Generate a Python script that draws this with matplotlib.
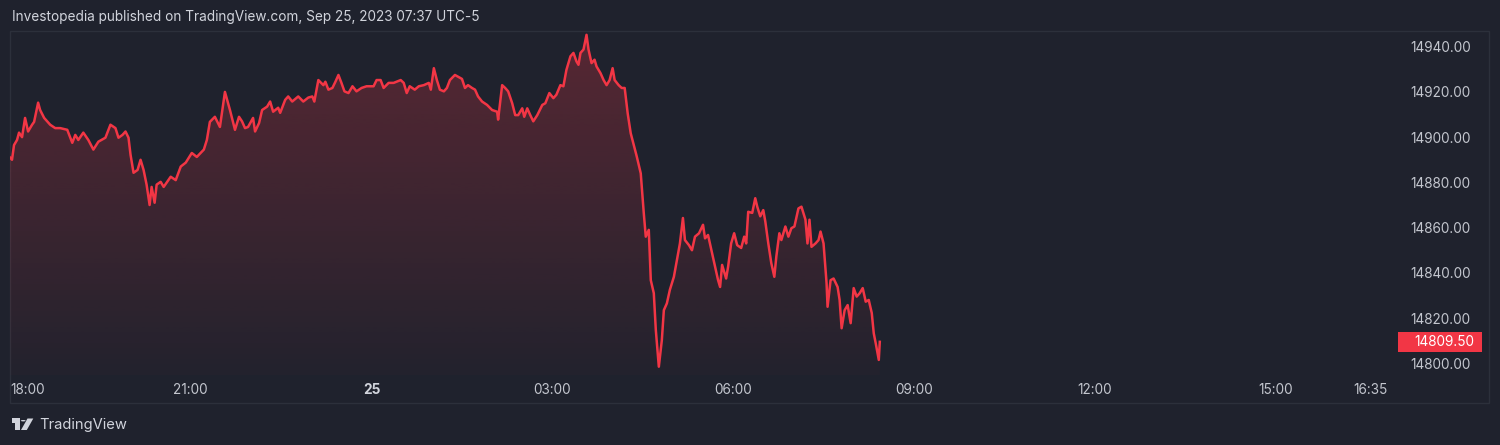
import matplotlib
matplotlib.use("Agg")
import matplotlib.pyplot as plt
import numpy as np
from matplotlib.patches import Rectangle, Polygon, Circle
from matplotlib.transforms import blended_transform_factory

plt.rcParams['font.family'] = ['Inter', 'DejaVu Sans']

# ---- data (minutes after 18:00, Sep 24) ----
minutes = [0, 2, 4, 7, 9, 12, 15, 18, 22, 24, 28, 30, 34, 40, 45, 50, 57, 62, 65, 68,
           73, 78, 83, 88, 95, 100, 105, 108, 112, 115, 118, 120, 123, 127, 130, 133, 136, 139, 141, 144,
           146, 150, 153, 160, 165, 170, 175, 181, 186, 193, 196, 199, 204, 209, 214, 219, 224, 228, 231, 234,
           237, 242, 244, 248, 251, 256, 259, 262, 267, 269, 274, 277, 281, 287, 292, 297, 301, 303, 307, 312,
           314, 317, 321, 324, 327, 330, 333, 337, 341, 345, 350, 355, 362, 365, 369, 372, 377, 382, 389, 392,
           395, 398, 403, 407, 412, 417, 419, 422, 425, 428, 432, 435, 438, 443, 450, 453, 456, 460, 463, 466,
           470, 475, 480, 485, 486, 490, 493, 496, 500, 503, 506, 510, 512, 515, 518, 521, 525, 530, 533, 537,
           541, 544, 548, 551, 554, 558, 561, 564, 566, 568, 571, 574, 576, 579, 582, 584, 588, 591, 594, 597,
           600, 602, 606, 609, 612, 615, 618, 624, 628, 631, 633, 636, 638, 641, 643, 646, 649, 651, 654, 657,
           661, 664, 667, 670, 672, 676, 679, 682, 686, 690, 692, 695, 699, 702, 705, 707, 709, 713, 715, 718,
           721, 724, 728, 731, 733, 735, 739, 742, 744, 747, 750, 752, 755, 758, 761, 763, 766, 768, 772, 775,
           778, 781, 785, 788, 792, 794, 796, 798, 802, 805, 807, 810, 813, 814, 817, 820, 824, 826, 828, 831,
           834, 837, 840, 843, 846, 849, 852, 855, 858, 860, 862, 865, 866]
prices = [14891.0, 14890.0, 14896.5, 14898.75, 14902.0, 14900.0, 14908.5, 14902.5, 14905.5, 14906.75,
          14915.25, 14912.0, 14908.5, 14905.5, 14904.0, 14904.0, 14903.25, 14897.5, 14901.0, 14898.75,
          14902.0, 14898.75, 14894.5, 14898.0, 14899.75, 14905.5, 14904.0, 14899.75, 14901.0, 14902.5,
          14899.75, 14892.25, 14884.25, 14885.5, 14890.0, 14885.5, 14879.0, 14870.0, 14878.0, 14871.0,
          14879.0, 14880.25, 14878.0, 14882.5, 14881.0, 14887.0, 14888.75, 14893.0, 14891.25, 14894.5,
          14898.75, 14906.75, 14909.0, 14904.5, 14920.0, 14912.0, 14903.25, 14909.0, 14907.0, 14904.0,
          14904.5, 14908.5, 14902.5, 14906.25, 14912.0, 14913.5, 14915.75, 14911.25, 14913.0, 14910.75,
          14916.5, 14918.0, 14915.75, 14918.0, 14915.75, 14917.5, 14918.0, 14915.75, 14925.25, 14923.0,
          14924.5, 14921.0, 14921.75, 14924.5, 14927.5, 14924.0, 14920.25, 14919.5, 14922.5, 14920.25,
          14921.75, 14922.5, 14922.5, 14925.25, 14925.25, 14921.75, 14924.0, 14924.0, 14925.25, 14924.0,
          14919.5, 14922.5, 14921.0, 14922.5, 14923.0, 14924.0, 14921.0, 14930.5, 14925.25, 14921.0,
          14920.25, 14921.75, 14925.25, 14927.5, 14925.75, 14921.75, 14923.0, 14921.75, 14921.0, 14918.0,
          14915.75, 14914.25, 14912.0, 14911.25, 14907.75, 14923.0, 14921.75, 14920.25, 14915.0, 14909.75,
          14909.75, 14912.75, 14909.0, 14912.75, 14909.75, 14907.0, 14909.75, 14914.25, 14915.0, 14919.5,
          14917.25, 14918.75, 14923.0, 14922.5, 14929.75, 14935.75, 14937.25, 14933.5, 14932.0, 14937.25,
          14938.75, 14945.25, 14938.75, 14932.75, 14934.25, 14931.25, 14928.25, 14925.25, 14923.0, 14925.25,
          14930.5, 14925.25, 14923.0, 14921.75, 14921.75, 14910.5, 14901.75, 14891.5, 14884.0, 14866.5,
          14856.0, 14859.0, 14836.75, 14831.0, 14814.75, 14798.5, 14810.25, 14823.5, 14826.5, 14832.5,
          14838.25, 14845.75, 14853.0, 14864.25, 14854.5, 14852.25, 14850.0, 14856.0, 14857.5, 14861.25,
          14855.25, 14856.75, 14848.75, 14842.75, 14836.75, 14833.75, 14843.5, 14837.5, 14842.75, 14853.0,
          14857.5, 14852.25, 14851.0, 14856.0, 14853.0, 14867.0, 14866.5, 14873.0, 14869.25, 14865.0,
          14867.75, 14862.75, 14853.0, 14844.25, 14838.25, 14847.25, 14857.5, 14854.5, 14860.5, 14856.0,
          14859.75, 14860.5, 14868.5, 14869.25, 14863.5, 14853.0, 14863.5, 14851.5, 14853.0, 14854.5,
          14858.25, 14853.0, 14835.5, 14825.0, 14836.75, 14837.5, 14833.75, 14828.0, 14815.5, 14823.5,
          14825.75, 14817.75, 14833.25, 14829.5, 14831.0, 14833.25, 14827.25, 14828.0, 14822.25, 14813.25,
          14808.75, 14801.5, 14809.5]

x_ticks = [0, 180, 360, 540, 720, 900, 1080, 1260, 1355]
x_labels = ['18:00', '21:00', '25', '03:00', '06:00', '09:00', '12:00', '15:00', '16:35']
y_ticks = [14800, 14820, 14840, 14860, 14880, 14900, 14920, 14940]
last_price = 14809.50
header = 'Investopedia published on TradingView.com, Sep 25, 2023 07:37 UTC-5'

BG = '#1f222d'
RED = '#f23645'
TXT = '#c3c6ce'

W, H = 1500, 445
fig = plt.figure(figsize=(W / 100, H / 100), dpi=100, facecolor=BG)

def fx(px):
    return px / W

def fy(py):
    return 1 - py / H

ax_l, ax_r, ax_t, ax_b = 10, 1388, 31, 375
ax = fig.add_axes([fx(ax_l), fy(ax_b), fx(ax_r - ax_l), (ax_b - ax_t) / H])
ax.patch.set_visible(False)
for s in ax.spines.values():
    s.set_visible(False)

ymin, ymax = 14794.83, 14946.94
ax.set_xlim(0, 1372)
ax.set_ylim(ymin, ymax)

x = np.array(minutes, dtype=float)
y = np.array(prices, dtype=float)

# gradient area fill
poly = ax.fill_between(x, y, ymin, facecolor='none', edgecolor='none')
grad = np.linspace(0, 1, 256).reshape(-1, 1)
rgba = np.zeros((256, 1, 4))
rgba[..., 0] = 242 / 255
rgba[..., 1] = 54 / 255
rgba[..., 2] = 69 / 255
rgba[..., 3] = (0.02 + 0.25 * grad)[..., 0:1]
im = ax.imshow(rgba, extent=[0, x.max(), ymin, y.max()], origin='lower', aspect='auto', zorder=1,
               interpolation='bilinear')
im.set_clip_path(poly.get_paths()[0], transform=ax.transData)
ax.set_xlim(0, 1372)
ax.set_ylim(ymin, ymax)

ax.plot(x, y, color=RED, lw=1.8, zorder=3, solid_joinstyle='round')

# axes ticks
ax.set_xticks(x_ticks)
ax.set_xticklabels(x_labels)
ax.tick_params(axis='x', length=0, pad=6, labelsize=9.8, labelcolor=TXT)
for lab in ax.get_xticklabels():
    if lab.get_text() == '25':
        lab.set_fontweight('bold')
        lab.set_color('#d1d4dc')
    if lab.get_text() == '18:00':
        lab.set_horizontalalignment('left')

ax.yaxis.tick_right()
ax.set_yticks(y_ticks)
ax.set_yticklabels([f'{v:.2f}' for v in y_ticks])
ax.tick_params(axis='y', length=0, pad=16, labelsize=9.8, labelcolor=TXT)

# last price marker
bt = blended_transform_factory(fig.transFigure, ax.transData)
hh = 9.7 / ((ax_b - ax_t) / (ymax - ymin))
fig.add_artist(Rectangle((fx(1397.7), last_price - hh), fx(1482.3 - 1397.7), 2 * hh,
                         transform=bt, facecolor=RED, edgecolor='none', zorder=5))
fig.text(fx(1474.5), last_price, f'{last_price:.2f}', transform=bt, ha='right', va='center',
         color='white', fontsize=9.8, zorder=6)

# panel border
fig.add_artist(Rectangle((fx(10), fy(403)), fx(1479), (403 - 31) / H, transform=fig.transFigure,
                         facecolor='none', edgecolor='#2c303b', lw=1, zorder=0))

# header
fig.text(fx(12), fy(17), header, ha='left', va='center', color='#d1d4dc', fontsize=9.8)

# footer logo + text
lc = '#d1d4dc'
pt = fig.transFigure
fig.add_artist(Rectangle((fx(11.7), fy(422.8)), fx(7.8), 4.5 / H, transform=pt, fc=lc, ec='none'))
fig.add_artist(Rectangle((fx(15.0), fy(430)), fx(4.5), 11.5 / H, transform=pt, fc=lc, ec='none'))
fig.add_artist(Polygon([[fx(21.0), fy(430)], [fx(26.8), fy(430)], [fx(33.3), fy(418.5)],
                        [fx(27.5), fy(418.5)]], closed=True, transform=pt, fc=lc, ec='none'))
fig.add_artist(Circle((fx(23.2), fy(420.7)), 2.4 / W, transform=pt, fc=lc, ec='none'))
fig.text(fx(39.5), fy(425), 'TradingView', ha='left', va='center', color=lc, fontsize=10.6)

fig.savefig('out.png', dpi=100, facecolor=BG)
